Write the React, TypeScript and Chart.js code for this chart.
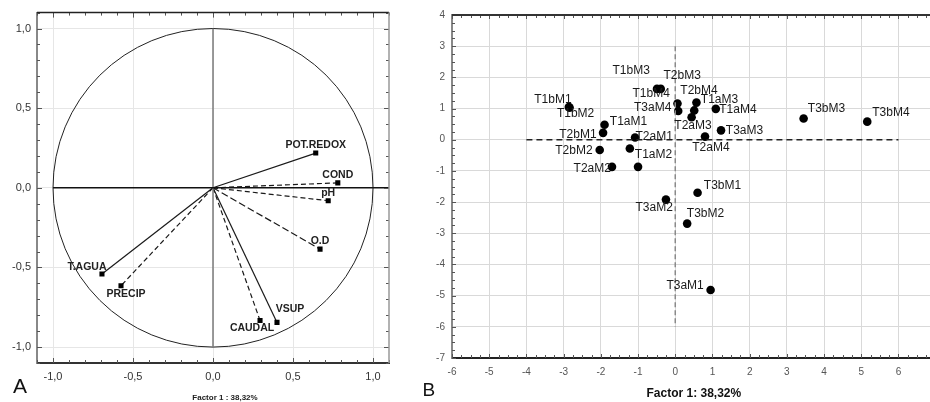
import React, { useEffect, useRef } from 'react';
import { Chart, registerables } from 'chart.js';

Chart.register(...registerables);

const FONT = "'Liberation Sans', Arial, Helvetica, sans-serif";

// ---------- Panel A: factor loadings ----------
const loadingNames = ['POT.REDOX', 'COND', 'pH', 'O.D', 'T.AGUA', 'PRECIP', 'CAUDAL', 'VSUP'];
const loadingX = [0.642, 0.78, 0.72, 0.669, -0.694, -0.575, 0.294, 0.4];
const loadingY = [0.218, 0.031, -0.081, -0.385, -0.541, -0.615, -0.833, -0.845];
const aTicks = [-1, -0.5, 0, 0.5, 1];
const aTitle = 'Factor 1 : 38,32%';

// styles for panel A vectors / labels (not data)
const loadingDash: number[][] = [[], [5, 3], [5, 3], [7, 3], [], [5, 3], [5, 3], []];
const loadingLabelPlacement: [number, number, CanvasTextAlign][] = [
  [0, -8, 'center'],
  [0, -8, 'center'],
  [0, -7.5, 'center'],
  [0, -8, 'center'],
  [-15, -7, 'center'],
  [5, 8, 'center'],
  [-8, 8, 'center'],
  [13, -13.5, 'center'],
];

// ---------- Panel B: sample scores ----------
const sampleNames = [
  'T1bM1', 'T1bM2', 'T1bM3', 'T1bM4', 'T2bM3', 'T3aM4', 'T2bM4', 'T1aM3', 'T2aM3', 'T1aM4',
  'T3aM3', 'T2aM4', 'T1aM1', 'T2bM1', 'T2aM1', 'T2bM2', 'T1aM2', 'T2aM2', '', 'T3bM1',
  'T3aM2', 'T3bM2', 'T3aM1', 'T3bM3', 'T3bM4',
];
const sampleX = [
  -2.86, -2.84, -0.49, -0.39, 0.06, 0.08, 0.57, 0.51, 0.44, 1.09,
  1.23, 0.8, -1.9, -1.94, -1.08, -2.03, -1.22, -1.7, -1.0, 0.6,
  -0.25, 0.32, 0.95, 3.45, 5.16,
];
const sampleY = [
  1.05, 1.03, 1.63, 1.63, 1.16, 0.92, 1.19, 0.94, 0.72, 0.99,
  0.3, 0.1, 0.48, 0.22, 0.07, -0.33, -0.28, -0.87, -0.87, -1.7,
  -1.92, -2.69, -4.82, 0.68, 0.58,
];
const bXTicks = [-6, -5, -4, -3, -2, -1, 0, 1, 2, 3, 4, 5, 6];
const bYTicks = [-7, -6, -5, -4, -3, -2, -1, 0, 1, 2, 3, 4];
const bTitle = 'Factor 1: 38,32%';

// label placement for panel B (style, not data)
const sampleLabelPlacement: [number, number, CanvasTextAlign][] = [
  [2.8, -7, 'right'],
  [-12.7, 6.4, 'left'],
  [-7.2, -18, 'right'],
  [9.1, 5, 'right'],
  [-14, -27.8, 'left'],
  [-6.9, -3, 'right'],
  [-16.1, -11.6, 'left'],
  [6.6, -10.4, 'left'],
  [-17.3, 8, 'left'],
  [3.4, 1, 'left'],
  [4.8, 0.7, 'left'],
  [-12.8, 11.4, 'left'],
  [5.3, -2.7, 'left'],
  [-6.5, 1.7, 'right'],
  [0.4, -0.5, 'left'],
  [-7.1, 1, 'right'],
  [5, 6.6, 'left'],
  [-1.1, 1.7, 'right'],
  [0, 0, 'left'],
  [6.3, -6.7, 'left'],
  [6.9, 8.4, 'right'],
  [-0.3, -10, 'left'],
  [-6.8, -4, 'right'],
  [4.2, -10, 'left'],
  [5, -9, 'left'],
];

const fmtComma = (v: number) => (Math.abs(v) < 1e-9 ? 0 : v).toFixed(1).replace('.', ',');

// ---------- plugins ----------
const frameTicksPlugin = {
  id: 'frameTicks',
  afterDraw(chart: any, _args: any, o: any) {
    const { ctx, chartArea: a, scales } = chart;
    const xs = scales.x;
    const ys = scales.y;
    const vals = (min: number, max: number, step: number) => {
      const r: number[] = [];
      for (let i = Math.ceil(min / step - 1e-6); i * step <= max + 1e-6; i++) r.push(i * step);
      return r;
    };
    const isMajor = (v: number, m: number) => Math.abs(v / m - Math.round(v / m)) < 1e-6;
    ctx.save();
    ctx.strokeStyle = o.tickColor;
    ctx.lineWidth = 1;
    ctx.beginPath();
    for (const v of vals(xs.min, xs.max, o.xStep)) {
      const px = Math.round(xs.getPixelForValue(v)) + 0.5;
      const len = isMajor(v, o.xMajor) ? o.majorLen : o.minorLen;
      if (o.sides.includes('bottom')) { ctx.moveTo(px, a.bottom); ctx.lineTo(px, a.bottom - len); }
      if (o.sides.includes('top')) { ctx.moveTo(px, a.top); ctx.lineTo(px, a.top + len); }
    }
    for (const v of vals(ys.min, ys.max, o.yStep)) {
      const py = Math.round(ys.getPixelForValue(v)) + 0.5;
      const len = isMajor(v, o.yMajor) ? o.majorLen : o.minorLen;
      if (o.sides.includes('left')) { ctx.moveTo(a.left, py); ctx.lineTo(a.left + len, py); }
      if (o.sides.includes('right')) { ctx.moveTo(a.right, py); ctx.lineTo(a.right - len, py); }
    }
    ctx.stroke();
    for (const b of o.borders) {
      ctx.beginPath();
      ctx.strokeStyle = b.color;
      ctx.lineWidth = b.width;
      if (b.side === 'top') { ctx.moveTo(a.left, a.top); ctx.lineTo(a.right, a.top); }
      if (b.side === 'right') { ctx.moveTo(a.right, a.top); ctx.lineTo(a.right, a.bottom); }
      ctx.stroke();
    }
    ctx.restore();
  },
};

const unitCirclePlugin = {
  id: 'unitCircle',
  beforeDatasetsDraw(chart: any, _args: any, o: any) {
    if (!o || !o.show) return;
    const { ctx, scales } = chart;
    const cx = scales.x.getPixelForValue(0);
    const cy = scales.y.getPixelForValue(0);
    const rx = scales.x.getPixelForValue(1) - cx;
    const ry = cy - scales.y.getPixelForValue(1);
    ctx.save();
    ctx.strokeStyle = o.color;
    ctx.lineWidth = o.width;
    ctx.beginPath();
    ctx.ellipse(cx, cy, rx, ry, 0, 0, Math.PI * 2);
    ctx.stroke();
    ctx.restore();
  },
};

const pointLabelsPlugin = {
  id: 'pointLabels',
  afterDatasetsDraw(chart: any, _args: any, o: any) {
    const { ctx } = chart;
    ctx.save();
    ctx.font = o.font;
    ctx.fillStyle = o.color;
    ctx.textBaseline = 'middle';
    for (const it of o.items) {
      if (!it.text) continue;
      const el = chart.getDatasetMeta(it.ds).data[it.idx];
      if (!el) continue;
      ctx.textAlign = it.align;
      ctx.fillText(it.text, el.x + it.dx, el.y + it.dy);
    }
    ctx.restore();
  },
};

const captionsPlugin = {
  id: 'captions',
  afterDraw(chart: any, _args: any, o: any) {
    const { ctx } = chart;
    ctx.save();
    for (const c of o.items) {
      ctx.font = c.font;
      ctx.fillStyle = c.color;
      ctx.textAlign = c.align;
      ctx.textBaseline = 'alphabetic';
      ctx.fillText(c.text, c.x, c.y);
    }
    ctx.restore();
  },
};

function makeChartA(canvas: HTMLCanvasElement) {
  const vectorSets = loadingNames.map((name, i) => ({
    label: name,
    data: [{ x: 0, y: 0 }, { x: loadingX[i], y: loadingY[i] }],
    showLine: true,
    borderColor: '#1a1a1a',
    borderWidth: 1.2,
    borderDash: loadingDash[i],
    pointStyle: 'rect' as const,
    pointRadius: [0, 3.6],
    pointBackgroundColor: '#000',
    pointBorderWidth: 0,
  }));
  const datasets: any[] = [
    {
      label: 'h',
      data: [{ x: -1, y: 0 }, { x: 1.1, y: 0 }],
      showLine: true, borderColor: '#111', borderWidth: 1.5, pointRadius: 0,
    },
    {
      label: 'v',
      data: [{ x: 0, y: 1 }, { x: 0, y: -1 }],
      showLine: true, borderColor: '#7a7a7a', borderWidth: 1.5, pointRadius: 0,
    },
    ...vectorSets,
  ];
  const labelItems = loadingNames.map((name, i) => ({
    ds: i + 2, idx: 1, text: name,
    dx: loadingLabelPlacement[i][0], dy: loadingLabelPlacement[i][1], align: loadingLabelPlacement[i][2],
  }));
  return new Chart(canvas, {
    type: 'scatter',
    data: { datasets },
    plugins: [unitCirclePlugin, pointLabelsPlugin, frameTicksPlugin, captionsPlugin],
    options: {
      animation: false,
      responsive: false,
      events: [],
      layout: { padding: { top: 9, right: 11, left: 0, bottom: 0 } },
      elements: { line: { tension: 0 } },
      scales: {
        x: {
          type: 'linear', min: -1.1, max: 1.1,
          afterBuildTicks: (s: any) => { s.ticks = aTicks.map((v) => ({ value: v })); },
          afterFit: (s: any) => { s.height = 39; },
          ticks: {
            callback: (v: any) => fmtComma(Number(v)), autoSkip: false, maxRotation: 0,
            padding: 7, color: '#333', font: { family: FONT, size: 11 },
          },
          grid: { color: '#e6e6e6', lineWidth: 1, drawTicks: false },
          border: { display: true, color: '#333', width: 2 },
        },
        y: {
          type: 'linear', min: -1.1, max: 1.1,
          afterBuildTicks: (s: any) => { s.ticks = aTicks.map((v) => ({ value: v })); },
          afterFit: (s: any) => { s.width = 37; },
          ticks: {
            callback: (v: any) => fmtComma(Number(v)), autoSkip: false,
            padding: 6, color: '#333', font: { family: FONT, size: 11 },
          },
          grid: { color: '#e6e6e6', lineWidth: 1, drawTicks: false },
          border: { display: true, color: '#888', width: 2 },
        },
      },
      plugins: {
        legend: { display: false },
        tooltip: { enabled: false },
        unitCircle: { show: true, color: '#222', width: 1 },
        pointLabels: { font: `bold 10.5px ${FONT}`, color: '#222', items: labelItems },
        frameTicks: {
          tickColor: '#555', xStep: 0.1, yStep: 0.1, xMajor: 0.5, yMajor: 0.5,
          minorLen: 3, majorLen: 5, sides: ['left', 'right', 'top', 'bottom'],
          borders: [{ side: 'top', color: '#222', width: 1.5 }, { side: 'right', color: '#999', width: 1.5 }],
        },
        captions: {
          items: [
            { text: aTitle, x: 225, y: 400, font: `bold 8px ${FONT}`, color: '#222', align: 'center' },
            { text: 'A', x: 13, y: 393.4, font: `21px ${FONT}`, color: '#111', align: 'left' },
          ],
        },
      } as any,
    },
  } as any);
}

function makeChartB(canvas: HTMLCanvasElement) {
  const datasets: any[] = [
    {
      label: 'h0',
      data: [{ x: -4, y: 0 }, { x: 6, y: 0 }],
      showLine: true, borderColor: '#222', borderWidth: 1.3, borderDash: [6, 4], pointRadius: 0,
    },
    {
      label: 'v0',
      data: [{ x: 0, y: 3 }, { x: 0, y: -6 }],
      showLine: true, borderColor: '#8a8a8a', borderWidth: 1.5, borderDash: [5, 3], pointRadius: 0,
    },
    {
      label: 'samples',
      data: sampleX.map((x, i) => ({ x, y: sampleY[i] })),
      pointRadius: 4.3,
      pointBackgroundColor: '#000',
      pointBorderWidth: 0,
    },
  ];
  const labelItems = sampleNames.map((name, i) => ({
    ds: 2, idx: i, text: name,
    dx: sampleLabelPlacement[i][0], dy: sampleLabelPlacement[i][1], align: sampleLabelPlacement[i][2],
  }));
  return new Chart(canvas, {
    type: 'scatter',
    data: { datasets },
    plugins: [pointLabelsPlugin, frameTicksPlugin, captionsPlugin],
    options: {
      animation: false,
      responsive: false,
      events: [],
      layout: { padding: { top: 15, right: 4, left: 0, bottom: 0 } },
      elements: { line: { tension: 0 } },
      scales: {
        x: {
          type: 'linear', min: -6, max: 7,
          afterBuildTicks: (s: any) => { s.ticks = bXTicks.map((v) => ({ value: v })); },
          afterFit: (s: any) => { s.height = 44; },
          ticks: {
            autoSkip: false, maxRotation: 0, padding: 8, color: '#555',
            font: { family: FONT, size: 10 },
          },
          grid: { color: '#d9d9d9', lineWidth: 1, drawTicks: false },
          border: { display: true, color: '#222', width: 2 },
          title: {
            display: true, text: bTitle, color: '#111',
            font: { family: FONT, size: 12, weight: 'bold' }, padding: { top: 0, bottom: 1 },
          },
        },
        y: {
          type: 'linear', min: -7, max: 4,
          afterBuildTicks: (s: any) => { s.ticks = bYTicks.map((v) => ({ value: v })); },
          afterFit: (s: any) => { s.width = 52; },
          ticks: { autoSkip: false, padding: 7, color: '#555', font: { family: FONT, size: 10 } },
          grid: { color: '#d9d9d9', lineWidth: 1, drawTicks: false },
          border: { display: true, color: '#888', width: 2 },
        },
      },
      plugins: {
        legend: { display: false },
        tooltip: { enabled: false },
        pointLabels: { font: `12px ${FONT}`, color: '#1a1a1a', items: labelItems },
        frameTicks: {
          tickColor: '#555', xStep: 0.25, yStep: 0.25, xMajor: 1, yMajor: 1,
          minorLen: 3, majorLen: 4, sides: ['left', 'top', 'bottom'],
          borders: [{ side: 'top', color: '#333', width: 2 }],
        },
        captions: {
          items: [
            { text: 'B', x: 22.6, y: 396, font: `19px ${FONT}`, color: '#111', align: 'left' },
          ],
        },
      } as any,
    },
  } as any);
}

export default function App() {
  const refA = useRef<HTMLCanvasElement | null>(null);
  const refB = useRef<HTMLCanvasElement | null>(null);
  useEffect(() => {
    const a = refA.current ? makeChartA(refA.current) : null;
    const b = refB.current ? makeChartB(refB.current) : null;
    return () => {
      a?.destroy();
      b?.destroy();
    };
  }, []);
  return (
    <div
      style={{
        position: 'fixed', left: 0, top: 0, width: 930, height: 402,
        overflow: 'hidden', background: '#fff',
      }}
    >
      <canvas ref={refA} width={400} height={402} style={{ position: 'absolute', left: 0, top: 0 }} />
      <canvas ref={refB} width={540} height={402} style={{ position: 'absolute', left: 400, top: 0 }} />
    </div>
  );
}
